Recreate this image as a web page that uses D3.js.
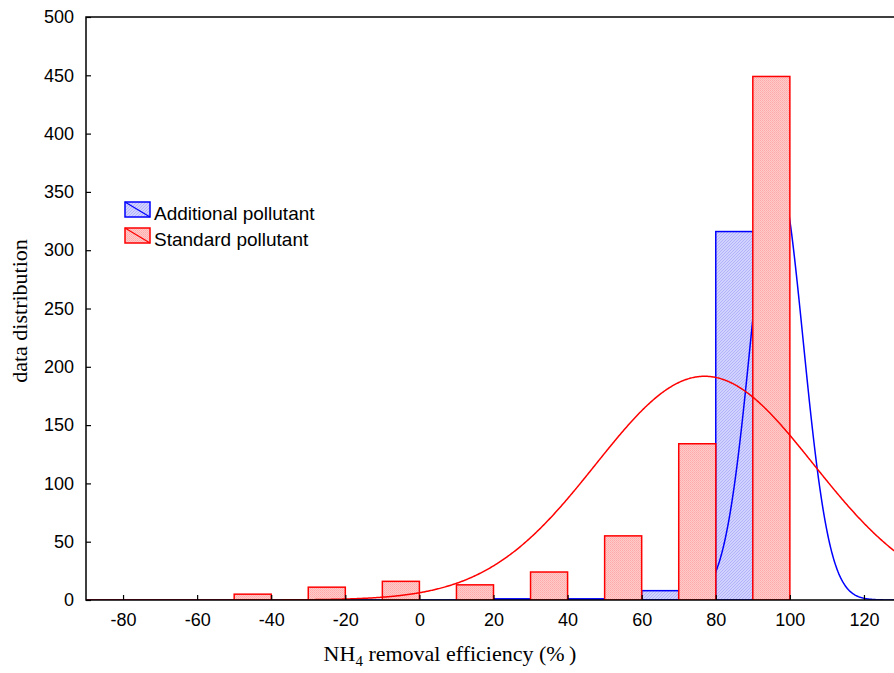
<!DOCTYPE html>
<html>
<head>
<meta charset="utf-8">
<script src="https://cdn.jsdelivr.net/npm/d3@7"></script>
<style>
  html, body { margin: 0; padding: 0; background: #fff; }
  svg { display: block; }
</style>
</head>
<body>
<svg id="chart" width="894" height="673"></svg>
<script>
// Histogram bins (width 20), each split into two half-width bars per series
const binCenters = [-80, -60, -40, -20, 0, 20, 40, 60, 80, 100, 120];
const standardCounts = [0, 0, 5, 11, 16, 13, 24, 55, 134, 449, 0];
const additionalCounts = [0, 0, 0, 0, 0, 1, 1, 8, 316, 0, 0];
const binWidth = 20;

// Fitted normal curves (mean, standard deviation)
const standardFit = [77, 29.4];
const additionalFit = [96.5, 7.07];

const xTicks = [-80, -60, -40, -20, 0, 20, 40, 60, 80, 100, 120];
const yTicks = [0, 50, 100, 150, 200, 250, 300, 350, 400, 450, 500];

const seriesNames = ["Additional pollutant", "Standard pollutant"];

const svg = d3.select("#chart");
const plotLeft = 86, plotRight = 901, plotTop = 17, plotBottom = 600;

const x = d3.scaleLinear().domain([-90, 130]).range([plotLeft, plotRight]);
const y = d3.scaleLinear().domain([0, 500]).range([plotBottom, plotTop]);

// Fill patterns
const defs = svg.append("defs");
const pr = defs.append("pattern").attr("id", "redFill")
  .attr("width", 2).attr("height", 2).attr("patternUnits", "userSpaceOnUse");
pr.append("rect").attr("width", 2).attr("height", 2).attr("fill", "#ffcaca");
pr.append("rect").attr("width", 1).attr("height", 1).attr("fill", "#ffa8a8");
pr.append("rect").attr("x", 1).attr("y", 1).attr("width", 1).attr("height", 1).attr("fill", "#ffb4b4");

const pb = defs.append("pattern").attr("id", "blueFill")
  .attr("width", 3).attr("height", 3).attr("patternUnits", "userSpaceOnUse");
pb.append("rect").attr("width", 3).attr("height", 3).attr("fill", "#d2d2ff");
pb.append("rect").attr("x", 0).attr("y", 2).attr("width", 1).attr("height", 1).attr("fill", "#b2b2fa");
pb.append("rect").attr("x", 1).attr("y", 1).attr("width", 1).attr("height", 1).attr("fill", "#b2b2fa");
pb.append("rect").attr("x", 2).attr("y", 0).attr("width", 1).attr("height", 1).attr("fill", "#b2b2fa");

defs.append("clipPath").attr("id", "plotClip")
  .append("rect").attr("x", plotLeft).attr("y", plotTop)
  .attr("width", plotRight - plotLeft).attr("height", plotBottom - plotTop);

const plot = svg.append("g").attr("clip-path", "url(#plotClip)");

function normalCurve(counts, fit) {
  const n = d3.sum(counts);
  const [mu, sd] = fit;
  const scale = n * binWidth / (sd * Math.sqrt(2 * Math.PI));
  const pts = d3.range(-90, 130.01, 0.25).map(v => [v, scale * Math.exp(-((v - mu) ** 2) / (2 * sd * sd))]);
  return d3.line().x(d => x(d[0])).y(d => y(d[1]))(pts);
}

const bins = binCenters.map((c, i) => ({ c, std: standardCounts[i], add: additionalCounts[i] }));

// Additional pollutant bars (right half of each bin)
plot.selectAll(".addBar").data(bins.filter(d => d.add > 0)).join("rect")
  .attr("x", d => x(d.c))
  .attr("width", d => x(d.c + binWidth / 2) - x(d.c))
  .attr("y", d => y(d.add))
  .attr("height", d => y(0) - y(d.add))
  .attr("fill", "url(#blueFill)")
  .attr("stroke", "#0000ff").attr("stroke-width", 1.5);

plot.append("path").attr("d", normalCurve(additionalCounts, additionalFit))
  .attr("fill", "none").attr("stroke", "#0000ff").attr("stroke-width", 1.5);

// Standard pollutant bars (left half of each bin)
plot.selectAll(".stdBar").data(bins.filter(d => d.std > 0)).join("rect")
  .attr("x", d => x(d.c - binWidth / 2))
  .attr("width", d => x(d.c) - x(d.c - binWidth / 2))
  .attr("y", d => y(d.std))
  .attr("height", d => y(0) - y(d.std))
  .attr("fill", "url(#redFill)")
  .attr("stroke", "#ff0000").attr("stroke-width", 1.5);

plot.append("path").attr("d", normalCurve(standardCounts, standardFit))
  .attr("fill", "none").attr("stroke", "#ff0000").attr("stroke-width", 1.5);

// Axes
const font = "'Liberation Sans', Arial, sans-serif";
const yAxis = svg.append("g").attr("transform", `translate(${plotLeft},0)`)
  .call(d3.axisLeft(y).tickValues(yTicks).tickSize(-5).tickPadding(12).tickFormat(d => String(d)));
const xAxis = svg.append("g").attr("transform", `translate(0,${plotBottom})`)
  .call(d3.axisBottom(x).tickValues(xTicks).tickSize(-5).tickPadding(13).tickFormat(d => String(d)));
[xAxis, yAxis].forEach(a => {
  a.select(".domain").remove();
  a.selectAll("line").attr("stroke", "#000").attr("stroke-width", 1.2);
  a.selectAll("text").attr("font-family", font).attr("font-size", 18).attr("fill", "#000");
});

// Frame
svg.append("path")
  .attr("d", `M${plotRight},${plotTop}H${plotLeft}V${plotBottom}H${plotRight}`)
  .attr("fill", "none").attr("stroke", "#000").attr("stroke-width", 1.5);

// Legend
const legend = svg.append("g");
const legendItems = [
  { name: seriesNames[0], fill: "url(#blueFill)", color: "#0000ff" },
  { name: seriesNames[1], fill: "url(#redFill)", color: "#ff0000" }
];
legendItems.forEach((d, i) => {
  const g = legend.append("g").attr("transform", `translate(125,${202 + i * 26})`);
  g.append("rect").attr("width", 25).attr("height", 15)
    .attr("fill", d.fill).attr("stroke", d.color).attr("stroke-width", 1.5);
  g.append("line").attr("x1", 0).attr("y1", 0).attr("x2", 25).attr("y2", 15)
    .attr("stroke", d.color).attr("stroke-width", 1.2);
  g.append("text").attr("x", 29).attr("y", 17.5)
    .attr("font-family", font).attr("font-size", 19).attr("fill", "#000")
    .text(d.name);
});

// Axis titles
const serif = "'Liberation Serif', 'Times New Roman', serif";
const xt = svg.append("text").attr("x", 450).attr("y", 661)
  .attr("text-anchor", "middle").attr("font-family", serif).attr("font-size", 22).attr("fill", "#000");
xt.append("tspan").text("NH");
xt.append("tspan").attr("font-size", 15).attr("dy", 5).text("4");
xt.append("tspan").attr("dy", -5).text(" removal efficiency (%\u2009)");

svg.append("text").attr("transform", "translate(27,311) rotate(-90)")
  .attr("text-anchor", "middle").attr("font-family", serif).attr("font-size", 22).attr("fill", "#000")
  .text("data distribution");
</script>
</body>
</html>
